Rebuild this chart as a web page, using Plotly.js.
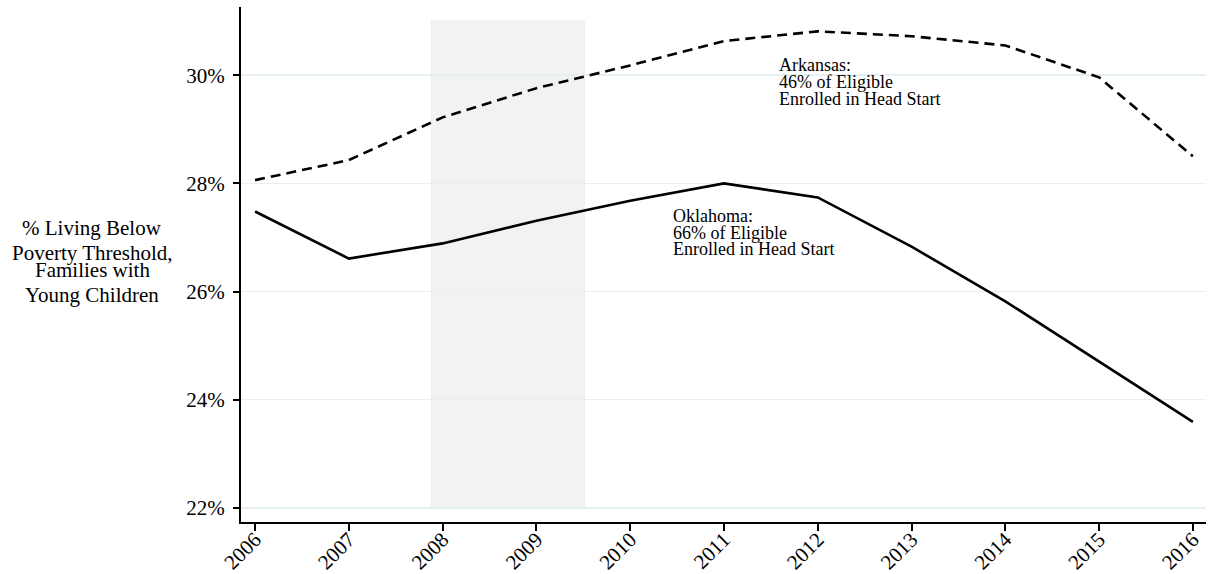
<!DOCTYPE html>
<html>
<head>
<meta charset="utf-8">
<script src="https://cdn.plot.ly/plotly-3.0.1.min.js"></script>
<style>html,body{margin:0;padding:0;background:#fff;}#chart{width:1209px;height:574px;}</style>
</head>
<body>
<div id="chart"></div>
<script>
const years = [2006, 2007, 2008, 2009, 2010, 2011, 2012, 2013, 2014, 2015, 2016];
const arkansas = [28.06, 28.43, 29.22, 29.76, 30.18, 30.63, 30.81, 30.72, 30.55, 29.96, 28.50];
const oklahoma = [27.48, 26.61, 26.89, 27.31, 27.68, 28.00, 27.74, 26.83, 25.82, 24.70, 23.59];
const yTicks = [22, 24, 26, 28, 30];
const yTickLabels = ['22%', '24%', '26%', '28%', '30%'];
const recession = {start: 2007.88, end: 2009.51, low: 22, high: 31};
const arkansasNote = ['Arkansas:', '46% of Eligible', 'Enrolled in Head Start'];
const oklahomaNote = ['Oklahoma:', '66% of Eligible', 'Enrolled in Head Start'];
const yTitleLines = ['% Living Below', 'Poverty Threshold,', 'Families with', 'Young Children'];

const font = 'Liberation Serif, Times New Roman, serif';

const traces = [
  {x: years, y: arkansas, mode: 'lines', name: 'Arkansas',
   line: {color: '#000', width: 2.6, dash: '10px,6px'}},
  {x: years, y: oklahoma, mode: 'lines', name: 'Oklahoma',
   line: {color: '#000', width: 2.6}}
];

function noteLines(lines, x, y, lineGap) {
  return lines.map((t, i) => ({
    xref: 'x', yref: 'y', x: x, y: y, yshift: -lineGap * i,
    xanchor: 'left', yanchor: 'middle', align: 'left', showarrow: false,
    text: t, font: {family: font, size: 18, color: '#000'}
  }));
}

const titleY = [0.571, 0.522, 0.489, 0.441];
const titleAnn = yTitleLines.map((t, i) => ({
  xref: 'paper', yref: 'paper', x: -0.1544, y: titleY[i],
  xanchor: 'center', yanchor: 'middle', align: 'center', showarrow: false,
  text: t, font: {family: font, size: 21, color: '#000'}
}));

const layout = {
  width: 1209, height: 574,
  margin: {l: 241, r: 3, t: 7, b: 52},
  paper_bgcolor: '#fff', plot_bgcolor: '#fff',
  showlegend: false,
  font: {family: font, color: '#000', size: 21},
  xaxis: {
    range: [2005.85, 2016.14], tickvals: years, ticktext: years.map(String),
    tickangle: -45, ticks: 'outside', ticklen: 7, tickwidth: 2, tickcolor: '#000',
    ticklabelstandoff: -12,
    showline: true, linecolor: '#000', linewidth: 2, showgrid: false, zeroline: false,
    tickfont: {family: font, size: 21, color: '#000'}
  },
  yaxis: {
    range: [21.74, 31.26], tickvals: yTicks, ticktext: yTickLabels,
    ticks: 'outside', ticklen: 6, tickwidth: 2, tickcolor: '#000',
    ticklabelstandoff: 4,
    showline: true, linecolor: '#000', linewidth: 2,
    showgrid: true, gridcolor: '#e6eff1', gridwidth: 1.5, zeroline: false,
    tickfont: {family: font, size: 21, color: '#000'}
  },
  shapes: [{
    type: 'rect', xref: 'x', yref: 'y', layer: 'below',
    x0: recession.start, x1: recession.end, y0: recession.low, y1: recession.high,
    fillcolor: '#f2f2f2', line: {color: '#ececec', width: 1}
  }],
  annotations: [
    ...noteLines(arkansasNote, 2011.57, 30.19, 17),
    ...noteLines(oklahomaNote, 2010.44, 27.395, 16.5),
    ...titleAnn
  ]
};

Plotly.newPlot('chart', traces, layout, {displayModeBar: false, staticPlot: true});
</script>
</body>
</html>
